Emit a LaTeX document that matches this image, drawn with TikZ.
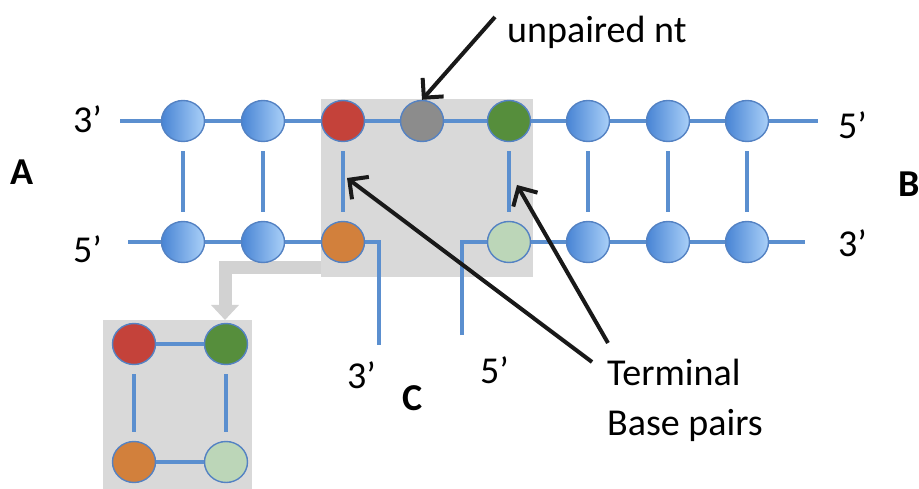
\documentclass[tikz,border=0pt]{standalone}
\usepackage{fontspec}
\setmainfont{Carlito}
\usetikzlibrary{arrows.meta,shapes.geometric}
\definecolor{strandblue}{RGB}{91,143,207}
\definecolor{rimblue}{RGB}{84,130,195}
\definecolor{bluedark}{RGB}{72,132,212}
\definecolor{bluelight}{RGB}{170,208,248}
\definecolor{ntred}{RGB}{196,66,58}
\definecolor{ntgray}{RGB}{140,140,140}
\definecolor{ntgreen}{RGB}{86,142,60}
\definecolor{ntorange}{RGB}{210,128,60}
\definecolor{ntlight}{RGB}{188,214,184}
\definecolor{boxgray}{RGB}{217,217,217}
\definecolor{bandgray}{RGB}{210,210,210}
\tikzset{
  nt/.style={ellipse,minimum width=43pt,minimum height=41pt,inner sep=0pt,draw=rimblue,line width=1.4pt},
  bluent/.style={nt,left color=bluedark,right color=bluelight},
  strand/.style={draw=strandblue,line width=4pt},
  rung/.style={draw=strandblue,line width=4pt,shorten <=9pt,shorten >=9pt},
  lbl/.style={inner sep=0pt,anchor=base west,font=\fontsize{38}{46}\selectfont},
  blbl/.style={lbl,font=\fontsize{38}{46}\selectfont\bfseries},
  pointer/.style={draw=black!90,line width=4pt,-{Straight Barb[length=14pt,width=28pt]}},
}
\begin{document}
\begin{tikzpicture}[x=1pt,y=-1pt]
\useasboundingbox (0,0) rectangle (919,489);
% background boxes
\node[fill=boxgray,minimum width=212pt,minimum height=178pt,inner sep=0pt,anchor=north west] (box) at (321,99) {};
\node[fill=boxgray,minimum width=149pt,minimum height=169pt,inner sep=0pt,anchor=north west] (inset) at (103,320) {};
% gray L arrow
\coordinate (bandstart) at (321,268);
\coordinate (bandcorner) at (225,268);
\draw[bandgray,line width=13pt,-{Triangle[length=15pt,width=27pt]}] (bandstart) -- (bandcorner) -- (inset.north west -| bandcorner);
% strands
\coordinate (ts) at (120,121);
\coordinate (te) at (818,121);
\coordinate (bls) at (128,242);
\coordinate (blc) at (379,242);
\coordinate (ble) at (379,345);
\coordinate (brs) at (462,335);
\coordinate (brc) at (462,242);
\coordinate (bre) at (805,242);
\draw[strand] (ts) -- (te);
\draw[strand] (bls) -- (blc) -- (ble);
\draw[strand] (brs) -- (brc) -- (bre);
% top nts
\node[bluent] (t1) at (183,121) {};
\node[bluent] (t2) at (263,121) {};
\node[nt,fill=ntred] (t3) at (343,121) {};
\node[nt,fill=ntgray] (t4) at (422,121) {};
\node[nt,fill=ntgreen] (t5) at (509,121) {};
\node[bluent] (t6) at (588,121) {};
\node[bluent] (t7) at (668,121) {};
\node[bluent] (t8) at (747,121) {};
% bottom nts
\node[bluent] (b1) at (183,242) {};
\node[bluent] (b2) at (263,242) {};
\node[nt,fill=ntorange] (b3) at (343,242) {};
\node[nt,fill=ntlight] (b5) at (509,242) {};
\node[bluent] (b6) at (588,242) {};
\node[bluent] (b7) at (668,242) {};
\node[bluent] (b8) at (747,242) {};
% rungs
\foreach \i in {1,2,3,5,6,7,8} \draw[rung] (t\i) -- (b\i);
% inset
\node[nt,fill=ntred] (ir) at (134,344) {};
\node[nt,fill=ntgreen] (ig) at (226,344) {};
\node[nt,fill=ntorange] (io) at (134,462) {};
\node[nt,fill=ntlight] (il) at (226,462) {};
\draw[strand] (ir) -- (ig);
\draw[strand] (io) -- (il);
\draw[rung] (ir) -- (io);
\draw[rung] (ig) -- (il);
% labels
\node[lbl] (l3) at (73,133) {3’};
\node[lbl] (l5) at (73,263) {5’};
\node[lbl] (r5) at (838,139) {5’};
\node[lbl] (r3) at (838,257) {3’};
\node[lbl] (d3) at (347,388) {3’};
\node[lbl] (d5) at (480,383) {5’};
\node[blbl] (la) at (10,185) {A};
\node[blbl] (lb) at (898,197) {B};
\node[blbl] (lc) at (402,410) {C};
\node[lbl] (un) at (507,43) {unpaired nt};
\node[lbl] (term) at (607,385) {Terminal};
\node[lbl] (base) at (607,435) {Base pairs};
% pointers
\coordinate (us) at (495,17);
\coordinate (p1s) at (592,362);
\coordinate (p1e) at (347,178);
\coordinate (p2s) at (608,343);
\coordinate (p2e) at (517,185);
\draw[pointer] (us) -- (t4.north);
\draw[pointer] (p1s) -- (p1e);
\draw[pointer] (p2s) -- (p2e);
\end{tikzpicture}
\end{document}
